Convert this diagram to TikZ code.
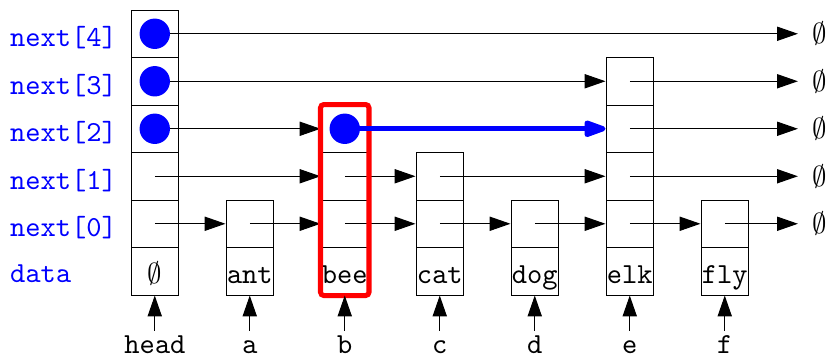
\documentclass[tikz,border=0pt]{standalone}
\usetikzlibrary{arrows.meta}
% typewriter face scaled up from its 10pt design
\font\bigtt=cmtt10 at 17.4pt
\begin{document}
\begin{tikzpicture}[
  font=\fontsize{17.4}{20}\selectfont\bigtt,
  cell/.style={draw, line width=0.6pt, minimum width=1cm, minimum height=1cm, inner sep=0pt},
  datacell/.style={cell, text height=0.6cm, text depth=0.1cm},
  ptr/.style={line width=0.6pt, -{Triangle[length=0.44cm,width=0.3cm]}},
  fieldlbl/.style={text=blue, anchor=base west, inner sep=0pt},
  varlbl/.style={anchor=base, inner sep=0pt},
  dot/.style={circle, fill=blue, minimum size=0.64cm, inner sep=0pt},
  hot/.style={blue, line width=3pt, line join=round,
    -{Triangle[length=0.56cm,width=0.36cm,round]}},
]
\useasboundingbox (-2.758,-1.305) rectangle (14.674,6.211);

% field names on the left
\node[fieldlbl] (f4) at (-2.55,5.5-0.274) {next[4]};
\node[fieldlbl] (f3) at (-2.55,4.5-0.274) {next[3]};
\node[fieldlbl] (f2) at (-2.55,3.5-0.274) {next[2]};
\node[fieldlbl] (f1) at (-2.55,2.5-0.274) {next[1]};
\node[fieldlbl] (f0) at (-2.55,1.5-0.274) {next[0]};
\node[fieldlbl] (fd) at (-2.55,0.5-0.23) {data};

% list nodes: name / x centre / number of levels / key
\foreach \n/\x/\h/\t in {head/0.5/5/{$\emptyset$}, ant/2.5/1/ant, bee/4.5/3/bee,
                         cat/6.5/2/cat, dog/8.5/1/dog, elk/10.5/4/elk, fly/12.5/1/fly}{
  \node[datacell] (\n-d) at (\x,0.5) {\t};
  \pgfmathtruncatemacro\top{\h-1}
  \foreach \l in {0,...,\top}{
    \node[cell] (\n-\l) at (\x,\l+1.5) {};
  }
  % pointer variable below the node
  \coordinate (\n-p) at (\x,-0.75);
}

% nil ends of every level
\foreach \l in {0,...,4}{
  \coordinate (end-\l) at (14.04,\l+1.5);
  \node[inner sep=0pt] (nil-\l) at (14.5,\l+1.5) {$\emptyset$};
}

% level 0
\draw[ptr] (head-0.center) -- (ant-0.west);
\draw[ptr] (ant-0.center) -- (bee-0.west);
\draw[ptr] (bee-0.center) -- (cat-0.west);
\draw[ptr] (cat-0.center) -- (dog-0.west);
\draw[ptr] (dog-0.center) -- (elk-0.west);
\draw[ptr] (elk-0.center) -- (fly-0.west);
\draw[ptr] (fly-0.center) -- (end-0);
% level 1
\draw[ptr] (head-1.center) -- (bee-1.west);
\draw[ptr] (bee-1.center) -- (cat-1.west);
\draw[ptr] (cat-1.center) -- (elk-1.west);
\draw[ptr] (elk-1.center) -- (end-1);
% level 2
\draw[ptr] (head-2.center) -- (bee-2.west);
\draw[ptr] (elk-2.center) -- (end-2);
% level 3
\draw[ptr] (head-3.center) -- (elk-3.west);
\draw[ptr] (elk-3.center) -- (end-3);
% level 4
\draw[ptr] (head-4.center) -- (end-4);

% pointers held by the head's upper levels and by bee
\node[dot] (d4) at (head-4.center) {};
\node[dot] (d3) at (head-3.center) {};
\node[dot] (d2) at (head-2.center) {};
\node[dot] (bd) at (bee-2.center) {};

% the node being updated and its new link
\draw[red, line width=3pt, rounded corners=2pt] (bee-d.south west) rectangle (bee-2.north east);
\draw[hot] (bd.center) -- (elk-2.west);

% variables pointing at the nodes
\foreach \n/\v in {head/head, ant/a, bee/b, cat/c, dog/d, elk/e, fly/f}{
  \node[varlbl] (v-\n) at ([yshift=-0.48cm]\n-p) {\v};
  \draw[ptr] (\n-p) -- (\n-d.south);
}
\end{tikzpicture}
\end{document}
